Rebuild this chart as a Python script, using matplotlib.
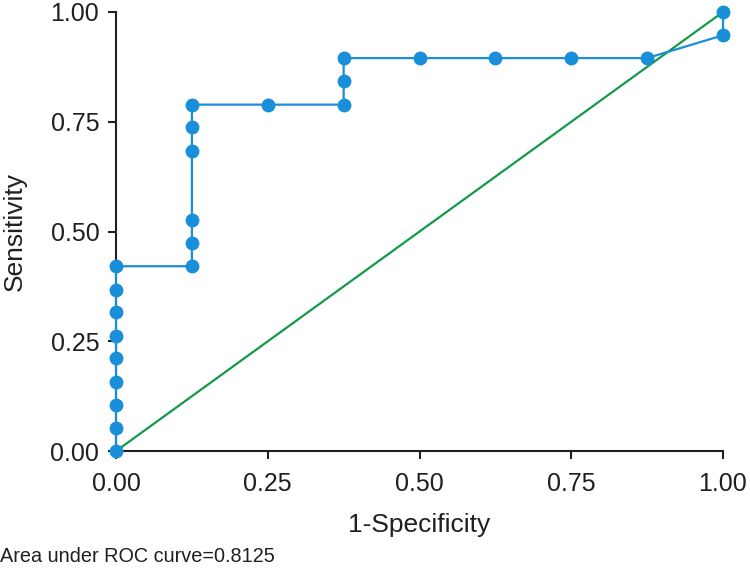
import matplotlib
matplotlib.use("Agg")
import matplotlib.pyplot as plt

# ----------------------------- Datos -----------------------------------------
fpr = [0.0, 0.0, 0.0, 0.0, 0.0, 0.0, 0.0, 0.0, 0.0,
       0.125, 0.125, 0.125, 0.125, 0.125, 0.125,
       0.25,
       0.375, 0.375, 0.375,
       0.5, 0.625, 0.75, 0.875,
       1.0, 1.0]
tpr = [0.0, 0.053, 0.105, 0.158, 0.211, 0.263, 0.316, 0.368, 0.421,
       0.421, 0.474, 0.526, 0.684, 0.737, 0.789,
       0.789,
       0.789, 0.842, 0.895,
       0.895, 0.895, 0.895, 0.895,
       0.947, 1.0]
ref_x = [0.0, 1.0]
ref_y = [0.0, 1.0]
ticks = [0.0, 0.25, 0.5, 0.75, 1.0]
auc_text = "Area under ROC curve=0.8125"

# ----------------------------- Estilo ----------------------------------------
plt.rcParams.update({
    "font.family": ["Liberation Sans", "DejaVu Sans"],
    "font.size": 18,
})
INK = "#231f20"
BLUE = "#1a8fd9"
GREEN = "#139a48"

fig = plt.figure(figsize=(7.5, 5.71), dpi=100)
ax = fig.add_axes([0.1547, 0.21, 0.8093, 0.769])

ax.plot(ref_x, ref_y, color=GREEN, linewidth=1.6, zorder=2, clip_on=False)
ax.plot(fpr, tpr, color=BLUE, linewidth=1.6, marker="o", markersize=10,
        markeredgewidth=0, zorder=3, clip_on=False)

ax.set_xlim(0, 1)
ax.set_ylim(0, 1)
ax.set_xticks(ticks)
ax.set_yticks(ticks)
ax.set_xticklabels([f"{t:.2f}" for t in ticks])
ax.set_yticklabels([f"{t:.2f}" for t in ticks])

for side in ["top", "right"]:
    ax.spines[side].set_visible(False)
for side in ["left", "bottom"]:
    ax.spines[side].set_linewidth(1.5)
    ax.spines[side].set_color(INK)
ax.tick_params(axis="both", length=6, width=1.5, color=INK, labelcolor=INK,
               labelsize=18)
ax.tick_params(axis="x", pad=9)
ax.tick_params(axis="y", pad=6)

ax.set_xlabel("1-Specificity", color=INK, fontsize=19, labelpad=12)
ax.set_ylabel("Sensitivity", color=INK, fontsize=19, labelpad=17)

fig.text(0.0, 0.008, auc_text, color=INK, fontsize=14.3, ha="left", va="bottom")

fig.savefig("out.png", dpi=100)
